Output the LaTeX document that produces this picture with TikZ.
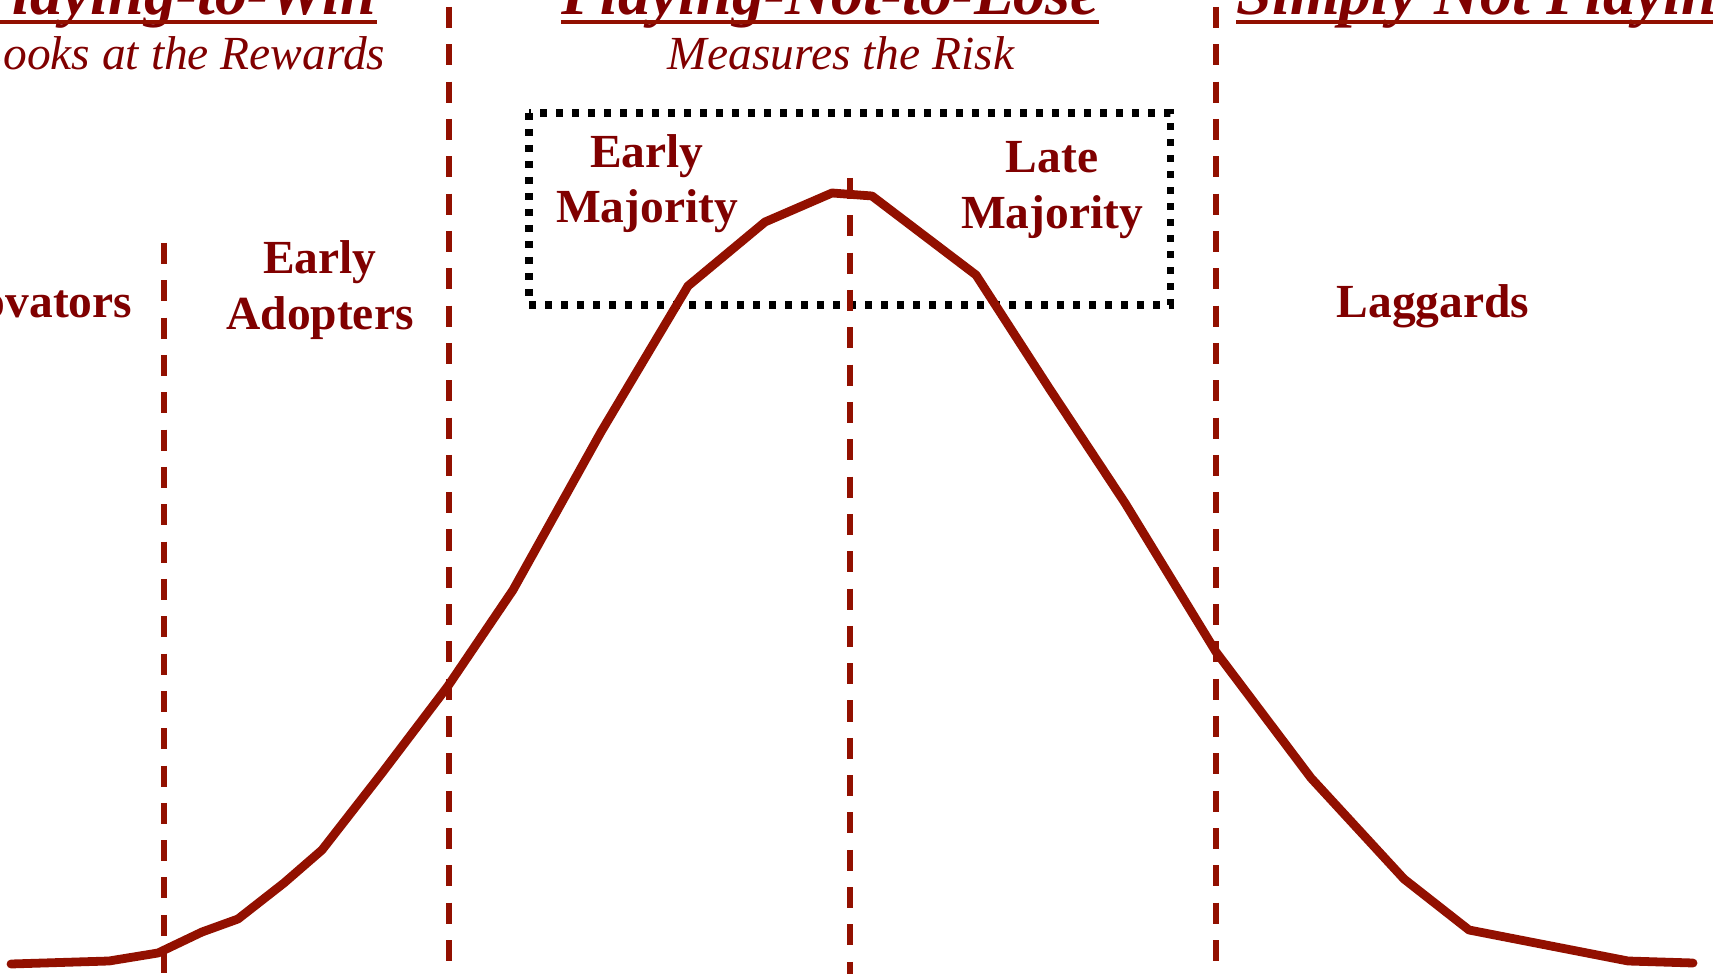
\documentclass[tikz,border=0pt]{standalone}
\usepackage{fontspec}
\setmainfont{Liberation Serif}
\usetikzlibrary{positioning}
\definecolor{curvered}{RGB}{146,16,0}
\definecolor{labelred}{RGB}{128,0,0}
\tikzset{
    divider/.style={draw=curvered, line width=1.45pt, dash pattern=on 0.21cm off 0.163cm},
    bellcurve/.style={draw=curvered, line width=2.5pt, line join=round, line cap=round},
    groupbox/.style={draw=black, line width=2pt, dash pattern=on 2pt off 2.55pt},
    segment/.style={text=labelred, font=\fontsize{13.5}{15.7}\selectfont\bfseries, align=center, inner sep=0pt},
    headline/.style={text=labelred, font=\fontsize{18.2}{20}\selectfont\bfseries\itshape, inner sep=0pt},
    subline/.style={text=labelred, font=\fontsize{13.5}{16}\selectfont\itshape, inner sep=0pt},
}

\begin{document}
\begin{tikzpicture}[x=0.01cm, y=-0.01cm]
            \useasboundingbox (0,0) rectangle (1713,974);
            % headings
            \node[headline, anchor=base east] (win) at (377,15) {Playing-to-Win};
            \node[headline, anchor=base] (lose) at (830,15) {Playing-Not-to-Lose};
            \node[headline, anchor=base west] (none) at (1236,15) {Simply Not Playing};
            \foreach \h in {win, lose, none}
                \draw[curvered, line width=1.4pt] ([yshift=-2pt]\h.base west) -- ([yshift=-2pt]\h.base east);
            \node[subline, anchor=base east] (rewards) at (386,70) {Looks at the Rewards};
            \node[subline, anchor=base] (risk) at (841,70) {Measures the Risk};
            % segments
            \node[segment, anchor=base east] (innov) at (133,318) {Innovators};
            \node[segment] (adopt) at (320,290) {Early\\Adopters};
            \node[segment] (earlymaj) at (647,184) {Early\\Majority};
            \node[segment] (latemaj) at (1052,190) {Late\\Majority};
            \node[segment, anchor=base] (lagg) at (1433,318) {Laggards};
            \draw[groupbox] (529,113) rectangle (1170,305);
            % adoption curve
            \draw[bellcurve] (11,964) -- (109,961) -- (158,953) -- (202,932) -- (238,919)
                -- (284,883) -- (322,850) -- (382,773) -- (448,686) -- (513,590)
                -- (601,432) -- (688,286) -- (765,222) -- (832,193) -- (872,196)
                -- (976,275) -- (1049,388) -- (1125,503) -- (1216,652) -- (1311,778)
                -- (1404,879) -- (1469,930) -- (1628,961) -- (1693,963);
            % dividers
            \draw[divider] (164,243) -- (164,974);
            \draw[divider] (449,7) -- (449,974);
            \draw[divider] (850,178) -- (850,974);
            \draw[divider] (1216,7) -- (1216,974);
        \end{tikzpicture}
\end{document}
